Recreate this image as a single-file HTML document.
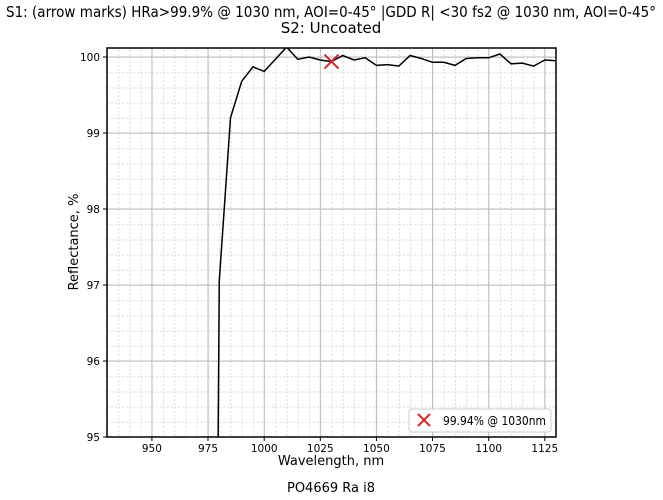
<!DOCTYPE html>
<html><head><style>body{margin:0;background:#fff}svg{display:block;font-family:"DejaVu Sans","Liberation Sans",sans-serif}</style></head><body>
<svg width="663" height="500" xmlns="http://www.w3.org/2000/svg">
<defs>
<pattern id="mg" patternUnits="userSpaceOnUse" width="11.225" height="15.2" patternTransform="translate(107,437)">
<line x1="0.5" y1="0" x2="0.5" y2="15.2" stroke="#d8d8d8" stroke-width="1" stroke-dasharray="2,2"/>
<line x1="0" y1="0.5" x2="11.225" y2="0.5" stroke="#d8d8d8" stroke-width="1" stroke-dasharray="2,2"/>
</pattern>
<clipPath id="c"><rect x="107" y="48" width="449" height="389"/></clipPath>
</defs>
<text x="331" y="17" text-anchor="middle" font-size="15" textLength="650" lengthAdjust="spacingAndGlyphs">S1: (arrow marks) HRa&gt;99.9% @ 1030 nm, AOI=0-45°  |GDD R| &lt;30 fs2 @ 1030 nm, AOI=0-45°</text>
<text x="331" y="33" text-anchor="middle" font-size="15">S2: Uncoated</text>
<rect x="107" y="48" width="449" height="389" fill="url(#mg)"/>
<g stroke="#bdbdbd" stroke-width="1">
<line x1="151.9" y1="48" x2="151.9" y2="437"/><line x1="208" y1="48" x2="208" y2="437"/><line x1="264.2" y1="48" x2="264.2" y2="437"/><line x1="320.3" y1="48" x2="320.3" y2="437"/><line x1="376.4" y1="48" x2="376.4" y2="437"/><line x1="432.5" y1="48" x2="432.5" y2="437"/><line x1="488.7" y1="48" x2="488.7" y2="437"/><line x1="544.8" y1="48" x2="544.8" y2="437"/>
<line x1="107" y1="361" x2="556" y2="361"/><line x1="107" y1="285" x2="556" y2="285"/><line x1="107" y1="209" x2="556" y2="209"/><line x1="107" y1="133" x2="556" y2="133"/><line x1="107" y1="57" x2="556" y2="57"/>
</g>
<g stroke="#000" stroke-width="1">
<line x1="151.9" y1="437" x2="151.9" y2="441"/><line x1="208" y1="437" x2="208" y2="441"/><line x1="264.2" y1="437" x2="264.2" y2="441"/><line x1="320.3" y1="437" x2="320.3" y2="441"/><line x1="376.4" y1="437" x2="376.4" y2="441"/><line x1="432.5" y1="437" x2="432.5" y2="441"/><line x1="488.7" y1="437" x2="488.7" y2="441"/><line x1="544.8" y1="437" x2="544.8" y2="441"/>
<line x1="103" y1="437" x2="107" y2="437"/><line x1="103" y1="361" x2="107" y2="361"/><line x1="103" y1="285" x2="107" y2="285"/><line x1="103" y1="209" x2="107" y2="209"/><line x1="103" y1="133" x2="107" y2="133"/><line x1="103" y1="57" x2="107" y2="57"/>
</g>
<g font-size="10.5" text-anchor="middle">
<text x="151.9" y="452">950</text><text x="208" y="452">975</text><text x="264.2" y="452">1000</text><text x="320.3" y="452">1025</text><text x="376.4" y="452">1050</text><text x="432.5" y="452">1075</text><text x="488.7" y="452">1100</text><text x="544.8" y="452">1125</text>
</g>
<g font-size="10.5" text-anchor="end">
<text x="100" y="441">95</text><text x="100" y="365">96</text><text x="100" y="289">97</text><text x="100" y="213">98</text><text x="100" y="137">99</text><text x="100" y="61">100</text>
</g>
<polyline clip-path="url(#c)" fill="none" stroke="#000" stroke-width="1.5" points="218.1,444.6 219.25,281.2 230.5,117.8 241.7,81.3 252.9,66.9 264.2,71.4 275.4,59.3 286.6,47.1 297.8,59.3 309.1,57 320.3,60 331.5,61.6 342.7,55.5 354,60 365.2,57.8 376.4,65.4 387.6,64.6 398.9,66.1 410.1,55.5 421.3,58.5 432.5,62.3 443.8,62.3 455,65.4 466.2,58.5 477.4,57.8 488.7,57.8 499.9,54 511.1,63.8 522.3,63.1 533.6,66.1 544.8,60 556,60.8"/>
<path d="M324.5 54.6L338.5 68.6M338.5 54.6L324.5 68.6" stroke="#d62728" stroke-width="2"/>
<rect x="107" y="48" width="449" height="389" fill="none" stroke="#000" stroke-width="1.5"/>
<rect x="409" y="409" width="142" height="23" rx="3" fill="#fff" stroke="#ccc"/>
<path d="M418 414L430 426M430 414L418 426" stroke="#d62728" stroke-width="2"/>
<text x="443" y="425" font-size="12" textLength="103" lengthAdjust="spacingAndGlyphs">99.94% @ 1030nm</text>
<text x="331" y="465" text-anchor="middle" font-size="13">Wavelength, nm</text>
<text x="331" y="492" text-anchor="middle" font-size="13">PO4669 Ra i8</text>
<text transform="translate(78,242) rotate(-90)" text-anchor="middle" font-size="13">Reflectance, %</text>
</svg>
</body></html>
